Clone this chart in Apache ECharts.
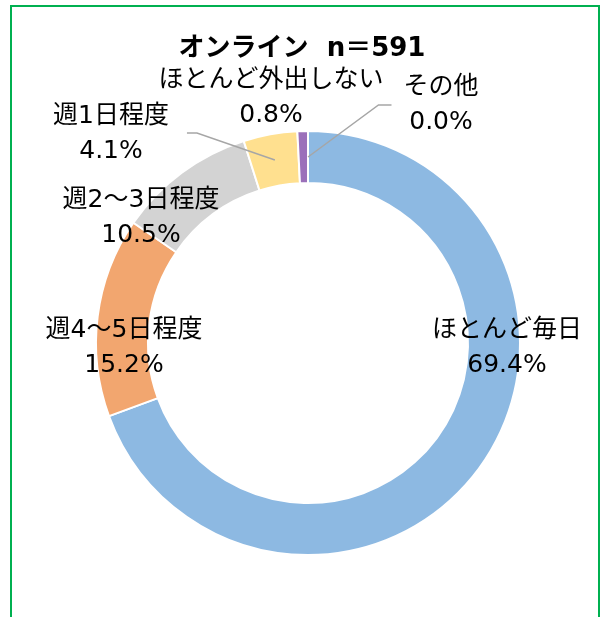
<!DOCTYPE html>
<html>
<head>
<meta charset="utf-8">
<script src="https://cdn.jsdelivr.net/npm/echarts@6/dist/echarts.min.js"></script>
<style>
    html, body { margin: 0; padding: 0; background: #fff; }
    #frame { position: absolute; left: 10px; top: 5px; width: 590px; height: 640px; border: 2px solid #00B050; box-sizing: border-box; }
    #echart1 { position: absolute; left: 0; top: 0; width: 604px; height: 617px; }
</style>
</head>
<body>
<div id="frame"></div>
<div id="echart1"></div>
<script>
// オンライン n=591 の外出頻度
var categories = ['ほとんど毎日', '週4～5日程度', '週2～3日程度', '週1日程度', 'ほとんど外出しない', 'その他'];
var values = [69.4, 15.2, 10.5, 4.1, 0.8, 0.0];
var colors = ['#8DB9E2', '#F2A66F', '#D3D3D3', '#FFE08F', '#9B70BA', '#6F9E4A'];
// which labels get a leader line, and on which side of the label it starts
var lineSide = [0, 0, 0, 1, 0, -1];
// label centres
var labelPos = [[507, 348], [124, 348], [141, 218], [111, 134], [271, 98], [441, 105]];

(function () {
    var myChart = echarts.init(document.getElementById('echart1'));
    var font = 'DejaVu Sans, "Noto Sans CJK JP", sans-serif';
    var cx = 308, cy = 343;

    var total = 0;
    for (var k = 0; k < values.length; k++) total += values[k];

    var ringData = [];
    var labelData = [];
    for (var i = 0; i < categories.length; i++) {
        ringData.push({
            name: categories[i],
            value: values[i],
            itemStyle: { color: colors[i] }
        });
        labelData.push({
            name: categories[i],
            value: values[i],
            labelLine: { show: lineSide[i] !== 0 }
        });
    }

    var option = {
        animation: false,
        title: {
            text: 'オンライン  n＝591',
            left: 'center',
            top: 31,
            textStyle: {
                fontFamily: font,
                fontSize: 26,
                fontWeight: 'bold',
                color: '#000'
            }
        },
        series: [
            {
                // the coloured ring
                type: 'pie',
                z: 2,
                center: [cx, cy],
                radius: [160, 212],
                startAngle: 90,
                clockwise: true,
                itemStyle: {
                    borderColor: '#fff',
                    borderWidth: 2
                },
                label: { show: false },
                labelLine: { show: false },
                emphasis: { disabled: true },
                silent: true,
                data: ringData
            },
            {
                // same slices, invisible, carrying labels and leader lines on top
                type: 'pie',
                z: 3,
                center: [cx, cy],
                radius: [160, 212],
                startAngle: 90,
                clockwise: true,
                avoidLabelOverlap: false,
                itemStyle: { color: 'rgba(0,0,0,0)' },
                label: {
                    show: true,
                    position: 'outside',
                    formatter: function (p) {
                        return p.name + '\n' + p.value.toFixed(1) + '%';
                    },
                    fontFamily: font,
                    fontSize: 25,
                    lineHeight: 35,
                    color: '#000',
                    align: 'center'
                },
                labelLine: {
                    lineStyle: { color: '#A6A6A6', width: 1.5 }
                },
                labelLayout: function (params) {
                    var idx = params.dataIndex;
                    var p = labelPos[idx];
                    var out = { x: p[0], y: p[1], align: 'center', verticalAlign: 'middle' };
                    var side = lineSide[idx];
                    if (side !== 0) {
                        // point inside the slice, at its middle angle
                        var before = 0;
                        for (var j = 0; j < idx; j++) before += values[j];
                        var a = (before + values[idx] / 2) / total * 2 * Math.PI;
                        var r = 186;
                        var tip = [cx + r * Math.sin(a), cy - r * Math.cos(a)];
                        var w = params.labelRect.width;
                        var edge = p[0] + side * w / 2;
                        var start, bend;
                        if (side > 0) {
                            start = [edge + 18, p[1] - 1];
                            bend = [start[0] + 10, start[1]];
                        } else {
                            start = [edge - 12, p[1]];
                            bend = [start[0] - 13, start[1]];
                        }
                        out.labelLinePoints = [start, bend, tip];
                    }
                    return out;
                },
                emphasis: { disabled: true },
                silent: true,
                data: labelData
            }
        ]
    };

    myChart.setOption(option);
    window.addEventListener("resize", function () {
        myChart.resize();
    });
})();
</script>
</body>
</html>
